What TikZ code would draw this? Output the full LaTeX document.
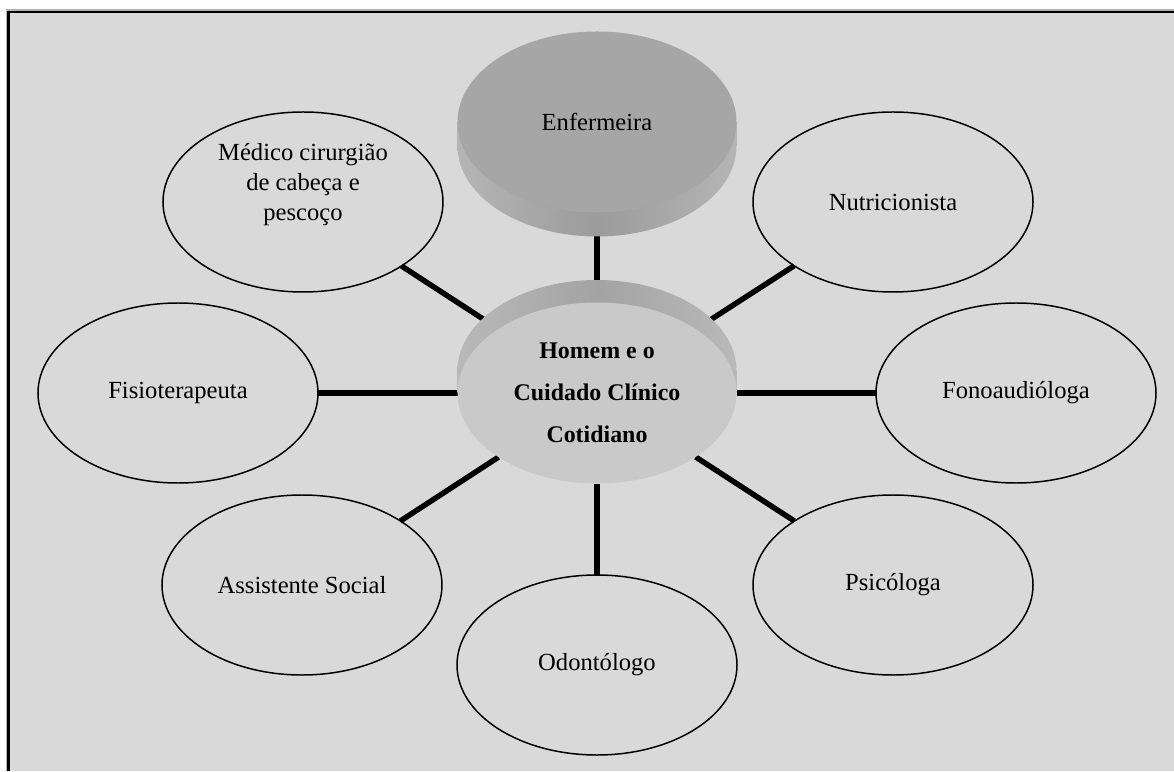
\documentclass[tikz,border=0pt]{standalone}
\usepackage{fontspec}
\setmainfont{Liberation Serif}
\usetikzlibrary{shapes.geometric, backgrounds}
\definecolor{panelgray}{RGB}{217, 217, 217}
\definecolor{enfgray}{RGB}{166, 166, 166}
\definecolor{hubgray}{RGB}{201, 201, 201}

\begin{document}
\begin{tikzpicture}[
  sat/.style={draw=black, line width=0.85pt, ellipse, minimum width=5.6cm, minimum height=3.6cm, inner sep=0pt, outer sep=0pt, align=center, font=\fontsize{14}{17}\selectfont},
  rim/.style={ellipse, minimum width=5.58cm, minimum height=3.62cm, inner sep=0pt, outer sep=0pt, align=center},
  link/.style={line width=3.1pt, black}
]
  \useasboundingbox (-11.94,-7.56) rectangle (11.54,7.86);

  % Enfermeira, raised disc
  \node[rim, left color=gray!58, right color=gray!58, middle color=gray!78] (enfrim) at (0,4.94) {};
  \shade[left color=gray!58, right color=gray!58, middle color=gray!78] (enfrim.west) rectangle ++(5.58,0.48);
  \node[rim, fill=enfgray, font=\fontsize{14}{17}\selectfont] (enf) at (0,5.42) {Enfermeira};

  % centre disc
  \node[rim, left color=gray!55, right color=gray!55, middle color=gray!72] (hubrim) at (0,0.45) {};
  \shade[left color=gray!55, right color=gray!55, middle color=gray!72] (hubrim.west) rectangle ++(5.58,-0.45);
  \node[rim, fill=hubgray, font=\fontsize{13.6}{24}\selectfont\bfseries] (hub) at (0,0) {Homem e o\\Cuidado Clínico\\Cotidiano};

  \node[sat, text depth=22.5pt] (medico) at (-5.88,3.82) {Médico cirurgião\\de cabeça e\\pescoço};
  \node[sat] (nutri) at (5.92,3.82) {Nutricionista};
  \node[sat] (fisio) at (-8.38,0) {Fisioterapeuta};
  \node[sat] (fono) at (8.38,0) {Fonoaudióloga};
  \node[sat] (social) at (-5.9,-3.84) {Assistente Social};
  \node[sat] (psico) at (5.92,-3.84) {Psicóloga};
  \node[sat] (odonto) at (0,-5.44) {Odontólogo};

  \begin{scope}[on background layer]
    \fill[panelgray] (-11.78,-7.56) rectangle (11.54,7.62);
    \draw[gray!60, line width=0.75pt] (-11.81,-7.56) -- (-11.81,7.66) -- (11.54,7.66);
    \draw[black, line width=1.15pt] (-11.77,-7.56) -- (-11.77,7.62) -- (11.54,7.62);
    \draw[link] (enf) -- (hub);
    \draw[link] (medico) -- (hub);
    \draw[link] (nutri) -- (hub);
    \draw[link] (fisio) -- (hub);
    \draw[link] (fono) -- (hub);
    \draw[link] (social) -- (hub);
    \draw[link] (psico) -- (hub);
    \draw[link] (odonto) -- (hub);
  \end{scope}
\end{tikzpicture}
\end{document}
